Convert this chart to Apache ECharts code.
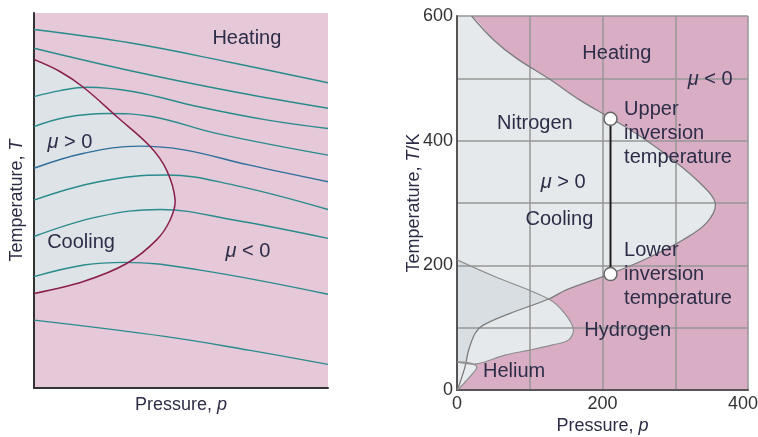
<!DOCTYPE html>
<html>
<head>
<meta charset="utf-8">
<script src="https://cdn.jsdelivr.net/npm/echarts@6/dist/echarts.min.js"></script>
<style>
html, body { margin: 0; padding: 0; background: #fff; }
#chart { width: 758px; height: 437px; }
</style>
</head>
<body>
<div id="chart"></div>
<script>
// ---------- left panel: schematic, no scale (0-100 on both axes)
const isenthalps = [
    [[0, 95.6], [33, 92.0], [67, 86.8], [100, 81.4]],
    [[0, 90.6], [34, 84.4], [68, 79.0], [100, 74.6]],
    [[0, 77.7], [9, 79.3], [18, 80.2], [34, 79.0], [56, 75.0], [79, 71.5], [100, 69.2]],
    [[0, 69.7], [11, 72.2], [25, 73.2], [40, 72.4], [62, 67.9], [100, 62.1]],
    [[0, 58.6], [17, 62.6], [36, 64.5], [51, 63.5], [73, 59.5], [100, 55.0]],
    [[0, 50.1], [22, 55.0], [45, 56.8], [68, 54.1], [100, 47.6]],
    [[0, 40.4], [22, 45.7], [43, 47.6], [68, 44.8], [100, 39.9]],
    [[0, 29.7], [17, 32.8], [31, 33.5], [56, 31.5], [100, 25.0]],
    [[0, 18.1], [45, 13.7], [73, 10.1], [100, 6.3]]
];
const isenthalpColors = ['#2a8b8c', '#2a8b8c', '#2a8b8c', '#2a8b8c', '#2f6f9c', '#2a8b8c', '#2a8b8c', '#2a8b8c', '#2a8b8c'];
// inversion curve, from the T axis round to the T axis
const inversionLeft = [
    [0, 87.6], [8.8, 84.4], [16.8, 80.2], [28.1, 72.4], [39.5, 64.4], [45.1, 58.1],
    [48, 50.1], [46.3, 44.8], [41.7, 39.5], [31.5, 33.2], [16.8, 28.4], [0, 25.2]
];

// ---------- right panel: p (atm) vs T/K
const nitrogen = [
    [0, 600], [20, 600], [50, 562], [82, 532], [128, 498], [169, 465], [213, 435], [252, 407],
    [297, 369], [334, 332], [355, 300], [343, 268], [311, 241], [261, 211], [210, 186],
    [151, 161], [126, 146], [73, 123], [36, 104], [25, 91], [16, 64], [11, 37], [3, 8], [0, 0]
];
const hydrogen = [
    [0, 209], [50, 183], [126, 146], [148, 123], [160, 97], [153, 80], [130, 72],
    [100, 64], [66, 56], [27, 42], [0, 45]
];
const helium = [
    [0, 45], [15, 44], [25, 40], [27, 35], [22, 27], [12, 14], [4, 4], [0, 0]
];
const inversionPts = [[211, 435], [211, 186]];
const pLabels = [0, 200, 400];
const tLabels = [0, 200, 400, 600];

const leftLabels = [
    { text: 'Heating', at: [72.4, 93.1] },
    { text: '{m|μ} > 0', at: [12.2, 65.6] },
    { text: 'Cooling', at: [16, 38.9] },
    { text: '{m|μ} < 0', at: [72.8, 36.3] }
];
const rightLabels = [
    { text: 'Heating', at: [219.7, 540] },
    { text: '{m|μ} < 0', at: [348, 497.6] },
    { text: 'Nitrogen', at: [107, 427] },
    { text: 'Upper\ninversion\ntemperature', at: [229.7, 412], align: 'left' },
    { text: '{m|μ} > 0', at: [146, 332.7] },
    { text: 'Cooling', at: [140.7, 273] },
    { text: 'Lower\ninversion\ntemperature', at: [229.7, 186], align: 'left' },
    { text: 'Hydrogen', at: [175, 95], align: 'left' },
    { text: 'Helium', at: [35.8, 29.4], align: 'left' }
];

const FONT = 'Liberation Sans';
const TEXT = '#2d2d48';
const SMOOTH = 0.35;

// closed shape: ends doubled so the edge along the axis stays straight
function closed(api, pts) {
    const c = pts.map(p => api.coord(p));
    return [c[0]].concat(c, [c[c.length - 1]]);
}
function open(api, pts) {
    return pts.map(p => api.coord(p));
}

function labelSeries(idx, labels) {
    return {
        type: 'custom', xAxisIndex: idx, yAxisIndex: idx, z: 6, silent: true, clip: false,
        data: labels.map(l => l.at),
        renderItem: function (params, api) {
            const l = labels[params.dataIndex];
            const p = api.coord([api.value(0), api.value(1)]);
            const style = {
                text: l.text, fontSize: 20, fontFamily: FONT, fill: TEXT,
                align: l.align || 'center', verticalAlign: 'middle', lineHeight: 24
            };
            if (l.text.indexOf('{') >= 0) {
                style.rich = { m: { fontSize: 20, fontFamily: FONT, fontStyle: 'italic', fill: TEXT } };
            }
            return { type: 'text', x: p[0], y: p[1], style: style };
        }
    };
}

const axisName = {
    fontSize: 18, fontFamily: FONT, color: '#2d2d48',
    rich: {
        n: { fontSize: 18, fontFamily: FONT, color: '#2d2d48' },
        i: { fontSize: 18, fontFamily: FONT, color: '#2d2d48', fontStyle: 'italic' }
    }
};

const series = [];

// left panel fill
series.push({
    type: 'custom', xAxisIndex: 0, yAxisIndex: 0, z: -1, silent: true, clip: true,
    data: [[0, 0]],
    renderItem: function (params, api) {
        return {
            type: 'polygon',
            shape: { points: closed(api, inversionLeft), smooth: SMOOTH },
            style: { fill: '#dde3e6' }
        };
    }
});
isenthalps.forEach((line, i) => {
    series.push({
        type: 'line', xAxisIndex: 0, yAxisIndex: 0, data: line, smooth: 0.4,
        symbol: 'none', silent: true, z: 2,
        lineStyle: { color: isenthalpColors[i], width: 1.4 }
    });
});
series.push({
    type: 'custom', xAxisIndex: 0, yAxisIndex: 0, z: 3, silent: true, clip: true,
    data: [[0, 0]],
    renderItem: function (params, api) {
        return {
            type: 'polyline',
            shape: { points: open(api, inversionLeft), smooth: SMOOTH },
            style: { fill: null, stroke: '#8a1f4f', lineWidth: 1.5 }
        };
    }
});

// right panel fills
series.push({
    type: 'custom', xAxisIndex: 1, yAxisIndex: 1, z: -1, silent: true, clip: true,
    data: [[0, 0]],
    renderItem: function (params, api) {
        const n = closed(api, nitrogen);
        const h = closed(api, hydrogen);
        const he = closed(api, helium);
        return {
            type: 'group',
            children: [
                { type: 'polygon', shape: { points: h, smooth: SMOOTH }, style: { fill: '#e5e9eb' } },
                { type: 'polygon', shape: { points: n, smooth: SMOOTH }, style: { fill: '#e5e9eb' } },
                {
                    type: 'polygon', shape: { points: h, smooth: SMOOTH }, style: { fill: '#d8dee1' },
                    clipPath: { type: 'polygon', shape: { points: n, smooth: SMOOTH } }
                },
                { type: 'polygon', shape: { points: he, smooth: SMOOTH }, style: { fill: '#e8ecee' } }
            ]
        };
    }
});
// right panel outlines
series.push({
    type: 'custom', xAxisIndex: 1, yAxisIndex: 1, z: 3, silent: true, clip: true,
    data: [[0, 0]],
    renderItem: function (params, api) {
        return {
            type: 'group',
            children: [
                { type: 'polyline', shape: { points: open(api, nitrogen.slice(1)), smooth: SMOOTH }, style: { fill: null, stroke: '#7c7c7c', lineWidth: 1.3 } },
                { type: 'polyline', shape: { points: open(api, hydrogen), smooth: SMOOTH }, style: { fill: null, stroke: '#8e8e8e', lineWidth: 1.2 } },
                { type: 'polyline', shape: { points: open(api, helium), smooth: SMOOTH }, style: { fill: null, stroke: '#8e8e8e', lineWidth: 1.2 } }
            ]
        };
    }
});
series.push({
    type: 'line', xAxisIndex: 1, yAxisIndex: 1, data: inversionPts, silent: true, z: 5,
    symbol: 'circle', symbolSize: 13,
    itemStyle: { color: '#ffffff', borderColor: '#666', borderWidth: 1.5 },
    lineStyle: { color: '#1e1e1e', width: 2 }
});
series.push(labelSeries(0, leftLabels));
series.push(labelSeries(1, rightLabels));

const tickText = { fontSize: 18, fontFamily: FONT, color: '#333' };

const option = {
    animation: false,
    grid: [
        { left: 34, top: 13, width: 294, height: 375, show: true, backgroundColor: '#e6c9d8', borderWidth: 0, z: -5, outerBoundsMode: 'none' },
        { left: 457, top: 16, width: 291, height: 374, show: true, backgroundColor: '#d9aec5', borderWidth: 0, z: -5, outerBoundsMode: 'none' }
    ],
    xAxis: [
        {
            gridIndex: 0, type: 'value', min: 0, max: 100,
            axisLine: { show: true, lineStyle: { color: '#333', width: 2 } },
            axisTick: { show: false }, axisLabel: { show: false }, splitLine: { show: false },
            name: '{n|Pressure, }{i|p}', nameLocation: 'middle', nameGap: 8, nameTextStyle: axisName,
            nameMoveOverlap: false
        },
        {
            gridIndex: 1, type: 'value', min: 0, max: 400, interval: 100,
            axisLine: { show: true, lineStyle: { color: '#555', width: 2 } },
            axisTick: { show: false },
            axisLabel: Object.assign({
                margin: 5,
                formatter: v => pLabels.indexOf(v) < 0 ? '' : (v === 400 ? '{r|400}' : String(v)),
                rich: { r: Object.assign({ padding: [0, 10, 0, 0] }, tickText) }
            }, tickText),
            splitLine: { show: true, lineStyle: { color: '#969696', width: 1.5 } },
            name: '{n|Pressure, }{i|p}', nameLocation: 'middle', nameGap: 27, nameTextStyle: axisName,
            nameMoveOverlap: false
        }
    ],
    yAxis: [
        {
            gridIndex: 0, type: 'value', min: 0, max: 100,
            axisLine: { show: true, lineStyle: { color: '#333', width: 2 } },
            axisTick: { show: false }, axisLabel: { show: false }, splitLine: { show: false },
            name: '{n|Temperature, }{i|T}', nameLocation: 'middle', nameGap: 8, nameTextStyle: axisName,
            nameMoveOverlap: false
        },
        {
            gridIndex: 1, type: 'value', min: 0, max: 600, interval: 100,
            axisLine: { show: true, lineStyle: { color: '#555', width: 2 } },
            axisTick: { show: false },
            axisLabel: Object.assign({
                margin: 4,
                formatter: v => tLabels.indexOf(v) >= 0 ? String(v) : ''
            }, tickText),
            splitLine: { show: true, lineStyle: { color: '#969696', width: 1.5 } },
            name: '{n|Temperature, }{i|T}{n|/K}', nameLocation: 'middle', nameGap: 34, nameTextStyle: axisName,
            nameMoveOverlap: false
        }
    ],
    series: series
};

const chart = echarts.init(document.getElementById('chart'));
chart.setOption(option);
</script>
</body>
</html>
